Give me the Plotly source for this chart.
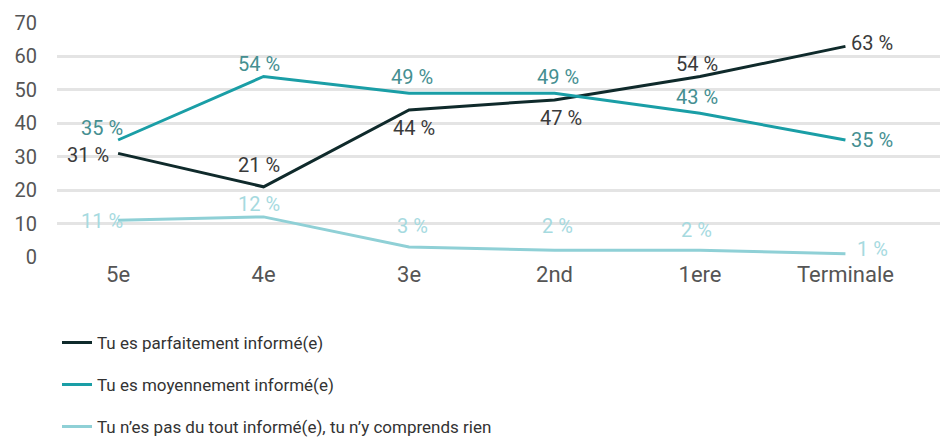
import plotly.graph_objects as go

# School years on the x axis
grades = ["5e", "4e", "3e", "2nd", "1ere", "Terminale"]

# Share of pupils (%) per level of information
parfaitement = [31, 21, 44, 47, 54, 63]
moyennement = [35, 54, 49, 49, 43, 35]
pas_du_tout = [11, 12, 3, 2, 2, 1]

series_names = [
    "Tu es parfaitement informé(e)",
    "Tu es moyennement informé(e)",
    "Tu n’es pas du tout informé(e), tu n’y comprends rien",
]

y_ticks = [0, 10, 20, 30, 40, 50, 60, 70]

# Styling per series
line_colors = ["#0f2a2b", "#1a9ea6", "#8fd0d6"]
label_colors = ["#3a3a3a", "#458f91", "#a6dadf"]

# Pixel offsets (dx, dy) of each value label from its point
label_offsets = [
    [(-30, -2), (-5, 22), (5, -18), (6, -18), (-3, 12), (27, 3)],
    [(-16, 12), (-5, 12), (3, 16), (3, 16), (-3, 16), (27, 0)],
    [(-16, -1), (-5, 13), (3, 21), (3, 24), (-3, 20), (27, 5)],
]

FONT = "Roboto, Inter, Arial, sans-serif"

fig = go.Figure()
annotations = []
for name, values, lc, tc, offs in zip(
    series_names,
    [parfaitement, moyennement, pas_du_tout],
    line_colors,
    label_colors,
    label_offsets,
):
    fig.add_trace(
        go.Scatter(
            x=grades,
            y=values,
            name=name,
            legendgroup=name,
            mode="lines",
            line=dict(color=lc, width=3),
            cliponaxis=False,
        )
    )
    for g, v, (dx, dy) in zip(grades, values, offs):
        annotations.append(
            dict(
                x=g,
                y=v,
                xref="x",
                yref="y",
                text=f"{v} %",
                showarrow=False,
                xanchor="center",
                yanchor="middle",
                xshift=dx,
                yshift=dy,
                font=dict(family=FONT, size=20, color=tc),
            )
        )

fig.update_layout(
    width=943,
    height=442,
    margin=dict(l=57, r=3, t=23, b=185, autoexpand=False),
    paper_bgcolor="white",
    plot_bgcolor="white",
    font=dict(family=FONT, size=19, color="#555555"),
    annotations=annotations,
    xaxis=dict(
        type="category",
        range=[-0.42, 5.65],
        showgrid=False,
        zeroline=False,
        showline=False,
        ticks="",
        ticklabelstandoff=2,
        tickfont=dict(size=22, color="#555555"),
    ),
    yaxis=dict(
        range=[0, 70],
        tickvals=y_ticks,
        showgrid=True,
        gridcolor="#e4e4e4",
        gridwidth=3,
        zeroline=False,
        showline=False,
        ticks="",
        ticklabelstandoff=19,
        tickfont=dict(size=20, color="#555555"),
    ),
    legend=dict(
        orientation="v",
        x=0,
        xanchor="left",
        y=-0.29,
        yanchor="top",
        font=dict(family=FONT, size=17, color="#333333"),
        tracegroupgap=17,
        itemwidth=30,
        bgcolor="rgba(0,0,0,0)",
    ),
    showlegend=True,
)

fig.write_html("out.html")
